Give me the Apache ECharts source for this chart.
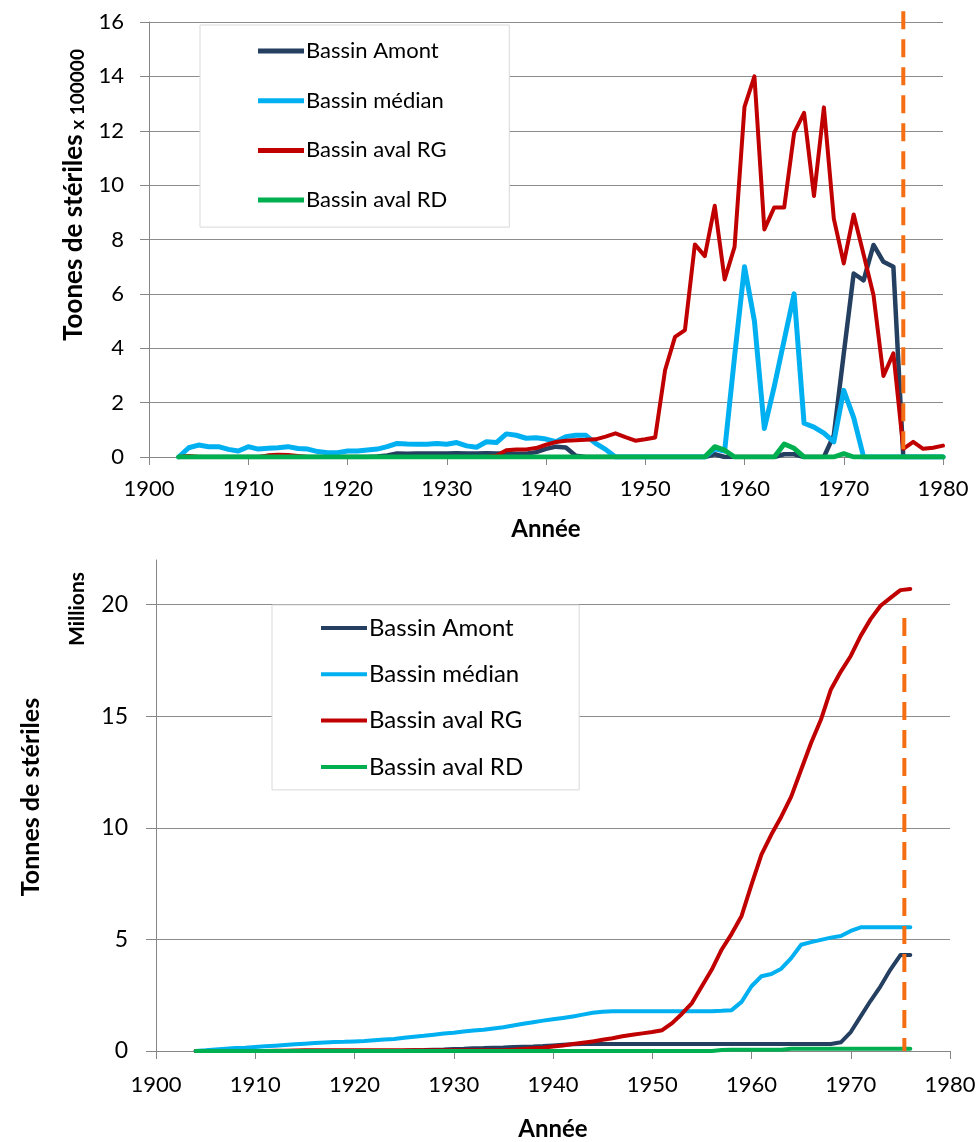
<!DOCTYPE html>
<html>
<head>
<meta charset="utf-8">
<script src="https://cdn.jsdelivr.net/npm/echarts@6/dist/echarts.min.js"></script>
<style>
html,body{margin:0;padding:0;background:#fff;}
#chart{width:980px;height:1142px;}
</style>
</head>
<body>
<div id="chart"></div>
<script>
// ---------- DATA ----------
const seriesNames = ['Bassin Amont', 'Bassin médian', 'Bassin aval RG', 'Bassin aval RD'];
const xTicks = [1900, 1910, 1920, 1930, 1940, 1950, 1960, 1970, 1980];
const topYTicks = [0, 2, 4, 6, 8, 10, 12, 14, 16];
const bottomYTicks = [0, 5, 10, 15, 20];

// Top chart: annual tonnes (x 100000), 1903-1980
const topYears = [1903,1904,1905,1906,1907,1908,1909,1910,1911,1912,1913,1914,1915,1916,1917,1918,1919,1920,
  1921,1922,1923,1924,1925,1926,1927,1928,1929,1930,1931,1932,1933,1934,1935,1936,1937,1938,1939,1940,
  1941,1942,1943,1944,1945,1946,1947,1948,1949,1950,1951,1952,1953,1954,1955,1956,1957,1958,1959,1960,
  1961,1962,1963,1964,1965,1966,1967,1968,1969,1970,1971,1972,1973,1974,1975,1976,1977,1978,1979,1980];
const topAmont = [0,0,0,0,0,0,0,0,0, 0,0,0,0, 0,0,0,0,0,0,0, 0.02,0.06,
  0.13,0.12,0.13,0.13,0.13,0.13,0.14,0.13,0.13,0.14,0.13,0.13,0.12,0.12,
  0.18,0.30,0.38,0.35,0.05,
  0,0,0,0,0,0,0,0,0,0,0,0,0,
  0.1, 0,0,0,0,0,0, 0.1,0.1, 0,0,0,
  0.8,3.8,6.75,6.5,7.8,7.18,7.0,
  0,0,0,0,0];
const topMedian = [0,0.34,0.44,0.38,0.38,0.28,0.22,0.38,0.29,0.32,0.34,0.38,0.31,0.29,0.20,0.16,0.16,0.22,
  0.22,0.26,0.29,0.38,0.50,0.48,0.47,0.47,0.50,0.47,0.53,0.41,0.36,0.56,0.53,0.85,0.80,0.69,0.71,0.66,
  0.56,0.75,0.80,0.80,0.50,0.28,0, 0,0,0,0,0,0,0,0,0,
  0.30,0.22,3.7,7.0,5.0,1.05,2.6,4.3,6.0,1.24,1.1,0.88,0.56,2.45,1.45,0,
  0,0,0,0,0,0,0,0];
const topRG = [0,0.04,0,0, 0,0,0,0,0, 0.06,0.08,0.07,0.04,
  0,0,0,0,0,0,0,0,0,0,0,0,0,0,0,0,0,0,0,
  0.05,0.25,0.28,0.28,0.33,0.45,0.55,0.60,0.62,0.63,0.65,0.75,0.87,0.73,0.60,0.65,
  0.72,3.2,4.42,4.67,7.82,7.39,9.24,6.53,7.73,12.88,14.0,8.37,9.18,9.18,11.92,12.66,9.6,12.86,
  8.77,7.12,8.92,7.45,5.95,2.98,3.81,0.3,0.56,0.3,0.34,0.42];
const topRD = [0,0,0,0,0,0,0,0,0,0,0,0,0,0,0,0,0,0,0,0,0,0,0,0,0,0,0,0,0,0,0,0,0,0,0,0,0,0,0,0,
  0,0,0,0,0,0,0,0,0,0,0,0,0,0,
  0.38,0.25, 0,0,0,0,0, 0.48,0.32, 0,0,0,0, 0.12,
  0,0,0,0,0,0,0,0,0,0];
const topMarkerYear = 1976;
const topMarkerRange = [16.4, 0];

// Bottom chart: cumulative tonnes (millions), 1904-1976
const bottomYears = [1904,1905,1906,1907,1908,1909,1910,1911,1912,1913,1914,1915,1916,1917,1918,1919,1920,
  1921,1922,1923,1924,1925,1926,1927,1928,1929,1930,1931,1932,1933,1934,1935,1936,1937,1938,1939,1940,
  1941,1942,1943,1944,1945,1946,1947,1948,1949,1950,1951,1952,1953,1954,1955,1956,1957,1958,1959,1960,
  1961,1962,1963,1964,1965,1966,1967,1968,1969,1970,1971,1972,1973,1974,1975,1976];
const bottomAmont = [0,0,0,0,0,0,0,0,0,0,0,0,0,0,0,0,0,0,0,0,0,
  0.01,0.03,0.04,0.06,0.07,0.09,0.10,0.12,0.13,0.15,0.16,0.18,0.19,0.20,0.22,0.25,0.28,0.30,0.31,
  0.31,0.31,0.31,0.31,0.31,0.31,0.31,0.31,0.31,0.31,0.31,0.31,0.31,0.31,0.31,0.31,0.31,0.31,0.31,0.31,0.31,0.31,0.31,0.31,0.31,
  0.39,0.85,1.55,2.25,2.9,3.65,4.3,4.3];
const bottomMedian = [0,0.03,0.07,0.10,0.13,0.15,0.18,0.21,0.24,0.27,0.30,0.33,0.36,0.38,0.40,0.41,0.43,
  0.45,0.48,0.51,0.54,0.59,0.64,0.68,0.73,0.78,0.82,0.87,0.92,0.95,1.01,1.06,1.14,1.22,1.29,1.36,1.42,
  1.48,1.55,1.63,1.71,1.76,1.78,
  1.78,1.78,1.78,1.78,1.78,1.78,1.78,1.78,1.78,1.78,
  1.80,1.83,2.2,2.9,3.35,3.45,3.69,4.16,4.76,4.88,4.98,5.08,5.15,5.38,5.54,
  5.54,5.54,5.54,5.54,5.54];
const bottomRG = [0,0,0,0,0,0,0,0, 0.01,0.01,0.02,0.03,
  0.03,0.03,0.03,0.03,0.03,0.03,0.03,0.03,0.03,0.03,0.03,0.03,0.03,0.03,0.03,0.03,0.03,0.03,0.03,
  0.03,0.06,0.09,0.12,0.15,0.20,0.25,0.31,0.37,0.43,
  0.50,0.57,0.66,0.73,0.79,0.85,0.93,1.25,1.67,2.15,
  2.9,3.65,4.55,5.25,6.05,7.45,8.8,9.7,10.5,11.4,
  12.6,13.8,14.85,16.2,17.0,17.7,18.6,19.35,19.95,20.3,
  20.65,20.7];
const bottomRD = [0,0,0,0,0,0,0,0,0,0,0,0,0,0,0,0,0,0,0,0,0,0,0,0,0,0,0,0,0,0,0,0,0,0,0,0,0,0,0,0,
  0,0,0,0,0,0,0,0,0,0,0,0,0,
  0.04, 0.06,0.06,0.06,0.06,0.06,0.06,
  0.1,0.1,0.1,0.1,0.1,0.1,0.1,0.1,0.1,0.1,0.1,0.1,0.1];
const bottomMarkerYear = 1975.4;
const bottomMarkerRange = [19.4, 0];

// ---------- STYLE ----------
const FONT = 'Lato, "Noto Sans", sans-serif';
const COLORS = ['#243F60', '#00B0F0', '#C00000', '#00B050'];
const MARKER = '#F46F13';
const AXIS_GREY = '#868686';

function pairs(xs, ys) { return xs.map((x, i) => [x, ys[i]]); }

function lineSeries(name, xs, ys, idx, color, width) {
  return {
    name: name, type: 'line', xAxisIndex: idx, yAxisIndex: idx,
    data: pairs(xs, ys), symbol: 'none', showSymbol: false,
    lineStyle: { color: color, width: width, cap: 'round', join: 'round' },
    itemStyle: { color: color },
    emphasis: { disabled: true }
  };
}

function markerSeries(idx, year, range) {
  return {
    name: 'marker' + idx, type: 'line', xAxisIndex: idx, yAxisIndex: idx,
    data: [[year, range[0]], [year, range[1]]], symbol: 'none', clip: false,
    lineStyle: { color: MARKER, width: 4, type: [18, 10] },
    z: 5, emphasis: { disabled: true }
  };
}

function xAxisCfg(idx, margin, nameGap) {
  return {
    gridIndex: idx, type: 'value', min: xTicks[0], max: xTicks[xTicks.length - 1],
    interval: xTicks[1] - xTicks[0],
    axisLine: { show: true, onZero: false, lineStyle: { color: AXIS_GREY, width: 1 } },
    axisTick: { show: true, length: 8, inside: false, lineStyle: { color: AXIS_GREY, width: 1 } },
    axisLabel: { fontSize: 22, fontFamily: FONT, color: '#000', margin: margin, formatter: v => String(v) },
    splitLine: { show: false },
    name: 'Année', nameLocation: 'middle', nameGap: nameGap,
    nameTextStyle: { fontSize: 24, fontWeight: 'bold', fontFamily: FONT, color: '#000' }
  };
}

function legendCfg(left, top, padding, gap, fontSize, lineH) {
  return {
    data: seriesNames, orient: 'vertical', left: left, top: top,
    padding: padding, icon: 'rect', itemWidth: 46, itemHeight: lineH, itemGap: gap,
    backgroundColor: '#fff', borderColor: '#d9d9d9', borderWidth: 1,
    textStyle: { fontSize: fontSize, lineHeight: 24, fontFamily: FONT, color: '#000', padding: [0, 0, 0, -3] },
    selectedMode: false
  };
}

const option = {
  animation: false,
  backgroundColor: '#fff',
  grid: [
    { left: 149, top: 22, width: 794, height: 435 },
    { left: 156, top: 560, width: 794, height: 493.5 }
  ],
  xAxis: [ xAxisCfg(0, 21, 60), xAxisCfg(1, 23, 66) ],
  yAxis: [
    {
      gridIndex: 0, type: 'value', min: topYTicks[0], max: topYTicks[topYTicks.length - 1],
      interval: topYTicks[1] - topYTicks[0],
      axisLine: { show: true, lineStyle: { color: AXIS_GREY, width: 1 } },
      axisTick: { show: true, length: 9, lineStyle: { color: AXIS_GREY, width: 1 } },
      axisLabel: { fontSize: 22, fontFamily: FONT, color: '#000', margin: 25 },
      splitLine: { show: true, lineStyle: { color: '#8c8c8c', width: 1 } }
    },
    {
      gridIndex: 1, type: 'value', min: 0, max: 22, interval: 5,
      axisLine: { show: true, lineStyle: { color: AXIS_GREY, width: 1 } },
      axisTick: { show: true, length: 10, customValues: bottomYTicks, lineStyle: { color: AXIS_GREY, width: 1 } },
      axisLabel: { fontSize: 23, fontFamily: FONT, color: '#000', margin: 28, customValues: bottomYTicks },
      splitLine: { show: true, lineStyle: { color: '#8c8c8c', width: 1 } }
    }
  ],
  legend: [
    legendCfg(200, 25, [14, 62, 15, 58], 25.7, 22, 5),
    legendCfg(272, 605, [11, 56, 11, 49], 22.3, 24, 4)
  ],
  graphic: [
    {
      type: 'text', x: 74, y: 195, rotation: Math.PI / 2,
      style: {
        text: '{a|Toones de stériles}{b| x 100000}',
        align: 'center', verticalAlign: 'middle', fill: '#000',
        rich: {
          a: { fontSize: 26, fontWeight: 'bold', fontFamily: FONT, fill: '#000', verticalAlign: 'bottom' },
          b: { fontSize: 19, fontWeight: 'bold', fontFamily: FONT, fill: '#000', verticalAlign: 'bottom' }
        }
      }
    },
    {
      type: 'text', x: 77, y: 609, rotation: Math.PI / 2,
      style: { text: 'Millions', fontSize: 21, fontWeight: 'bold', fontFamily: FONT, fill: '#000', align: 'center', verticalAlign: 'middle' }
    },
    {
      type: 'text', x: 31, y: 797, rotation: Math.PI / 2,
      style: { text: 'Tonnes de stériles', fontSize: 25, fontWeight: 'bold', fontFamily: FONT, fill: '#000', align: 'center', verticalAlign: 'middle' }
    }
  ],
  series: [
    lineSeries(seriesNames[0], topYears, topAmont, 0, COLORS[0], 4.5),
    lineSeries(seriesNames[1], topYears, topMedian, 0, COLORS[1], 5),
    lineSeries(seriesNames[2], topYears, topRG, 0, COLORS[2], 4),
    lineSeries(seriesNames[3], topYears, topRD, 0, COLORS[3], 5),
    markerSeries(0, topMarkerYear, topMarkerRange),
    lineSeries(seriesNames[0], bottomYears, bottomAmont, 1, COLORS[0], 4),
    lineSeries(seriesNames[1], bottomYears, bottomMedian, 1, COLORS[1], 4),
    lineSeries(seriesNames[2], bottomYears, bottomRG, 1, COLORS[2], 4),
    lineSeries(seriesNames[3], bottomYears, bottomRD, 1, COLORS[3], 4),
    markerSeries(1, bottomMarkerYear, bottomMarkerRange)
  ]
};

const chart = echarts.init(document.getElementById('chart'), null, { renderer: 'canvas' });
chart.setOption(option);
</script>
</body>
</html>
